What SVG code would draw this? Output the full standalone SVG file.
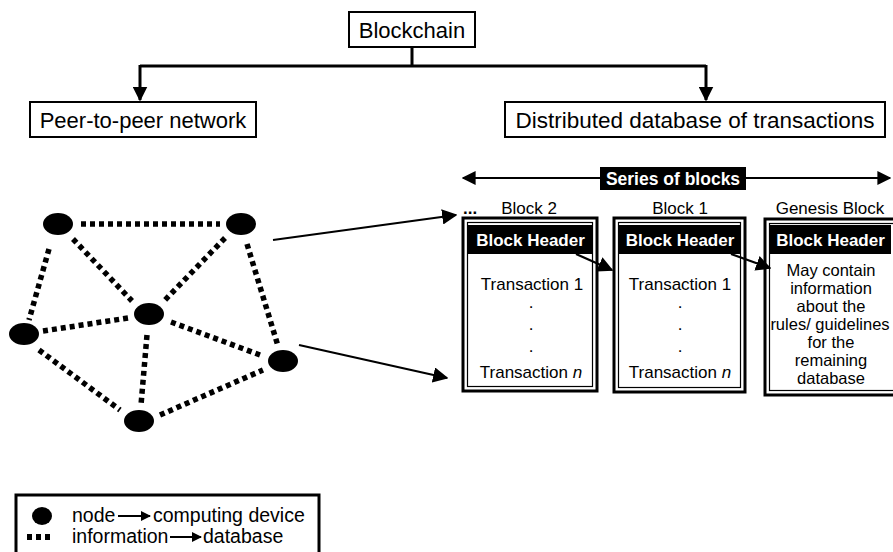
<svg xmlns="http://www.w3.org/2000/svg" width="893" height="552" viewBox="0 0 893 552">
<defs>
<style>
.t{font-family:"Liberation Sans",Arial,sans-serif;fill:#000}
.b{font-family:"Liberation Sans",Arial,sans-serif;font-weight:bold;fill:#fff}
.box{fill:#fff;stroke:#000;stroke-width:2}
.blk{fill:#fff;stroke:#000;stroke-width:3}
.inn{fill:none;stroke:#000;stroke-width:1.2}
.dot{stroke:#000;stroke-width:5.5;stroke-dasharray:5 4;fill:none}
.ln{stroke:#000;fill:none}
</style>
<marker id="ah" viewBox="0 0 10 10" refX="9" refY="5" markerWidth="5" markerHeight="5" orient="auto" markerUnits="strokeWidth"><path d="M0,0 L10,5 L0,10 z" fill="#000"/></marker>
<marker id="ah2" viewBox="0 0 10 10" refX="9" refY="5" markerWidth="7" markerHeight="7" orient="auto-start-reverse" markerUnits="strokeWidth"><path d="M0,0 L10,5 L0,10 z" fill="#000"/></marker>
</defs>
<rect width="893" height="552" fill="#fff"/>

<g id="connectors">
<path class="ln" stroke-width="3" d="M412,47 V66 M140,66 H706"/>
<path class="ln" stroke-width="3" d="M140,65 V100" marker-end="url(#ah)"/>
<path class="ln" stroke-width="3" d="M706,65 V100" marker-end="url(#ah)"/>
<path class="ln" stroke-width="2" d="M600,178 H463" marker-end="url(#ah2)"/>
<path class="ln" stroke-width="2" d="M746,178 H890" marker-end="url(#ah2)"/>
<path class="ln" stroke-width="2.2" d="M273,240 L456,215" marker-end="url(#ah2)"/>
<path class="ln" stroke-width="2.2" d="M299,345 L447,378" marker-end="url(#ah2)"/>
<g id="net-links">
<path class="dot" d="M81,224 H220"/>
<path class="dot" d="M73,239 L132,301"/>
<path class="dot" d="M225,238 L165,300"/>
<path class="dot" d="M49,249 L29,320"/>
<path class="dot" d="M247,244 L278,346"/>
<path class="dot" d="M43,331 L128,318"/>
<path class="dot" d="M171,322 L260,355"/>
<path class="dot" d="M147,335 L141,405"/>
<path class="dot" d="M39,350 L120,410"/>
<path class="dot" d="M160,415 L263,370"/>
</g>
</g>

<g id="blockchain">
<rect class="box" x="349" y="12" width="126" height="35"/>
<text class="t" x="412" y="38" font-size="22" text-anchor="middle">Blockchain</text>
</g>
<g id="p2p">
<rect class="box" x="30" y="102" width="226" height="35"/>
<text class="t" x="143" y="128" font-size="22" text-anchor="middle">Peer-to-peer network</text>
</g>
<g id="ddb">
<rect class="box" x="505" y="102" width="380" height="35"/>
<text class="t" x="695" y="128" font-size="22.5" text-anchor="middle">Distributed database of transactions</text>
</g>

<g id="series">
<rect x="600" y="167" width="146" height="23" fill="#000"/>
<text class="b" x="673" y="185" font-size="17.5" text-anchor="middle">Series of blocks</text>
</g>

<g id="nodes">
<ellipse id="n1" cx="58" cy="224" rx="15" ry="11" fill="#000"/>
<ellipse id="n2" cx="241" cy="224" rx="15" ry="11" fill="#000"/>
<ellipse id="n3" cx="149" cy="314" rx="15" ry="11" fill="#000"/>
<ellipse id="n4" cx="24" cy="334" rx="15" ry="11" fill="#000"/>
<ellipse id="n5" cx="283" cy="361" rx="15" ry="11" fill="#000"/>
<ellipse id="n6" cx="139" cy="421" rx="15" ry="11" fill="#000"/>
</g>

<g id="block2">
<text class="t" x="463" y="214" font-size="17" font-weight="bold">...</text>
<text class="t" x="529" y="214" font-size="17" text-anchor="middle">Block 2</text>
<rect class="blk" x="463" y="218" width="134" height="173"/>
<rect class="inn" x="467.5" y="222.5" width="125" height="164"/>
<rect x="468" y="225" width="125" height="29" fill="#000"/>
<text class="b" x="530.5" y="246" font-size="17" text-anchor="middle">Block Header</text>
<text class="t" x="532" y="290" font-size="17" text-anchor="middle">Transaction 1</text>
<text class="t" x="531" y="308" font-size="17" text-anchor="middle">.</text>
<text class="t" x="531" y="330" font-size="17" text-anchor="middle">.</text>
<text class="t" x="531" y="352" font-size="17" text-anchor="middle">.</text>
<text class="t" x="531" y="378" font-size="17" text-anchor="middle">Transaction <tspan font-style="italic">n</tspan></text>
</g>

<g id="block1">
<text class="t" x="680" y="214" font-size="17" text-anchor="middle">Block 1</text>
<rect class="blk" x="614" y="218" width="131" height="174"/>
<rect class="inn" x="618.5" y="222.5" width="122" height="165"/>
<rect x="619" y="225" width="122" height="29" fill="#000"/>
<text class="b" x="680" y="246" font-size="17" text-anchor="middle">Block Header</text>
<text class="t" x="680" y="290" font-size="17" text-anchor="middle">Transaction 1</text>
<text class="t" x="680" y="308" font-size="17" text-anchor="middle">.</text>
<text class="t" x="680" y="330" font-size="17" text-anchor="middle">.</text>
<text class="t" x="680" y="352" font-size="17" text-anchor="middle">.</text>
<text class="t" x="680" y="378" font-size="17" text-anchor="middle">Transaction <tspan font-style="italic">n</tspan></text>
</g>

<g id="genesis">
<text class="t" x="830" y="214" font-size="17" text-anchor="middle">Genesis Block</text>
<rect class="blk" x="765" y="219" width="132" height="176"/>
<rect class="inn" x="769.5" y="223.5" width="130" height="167"/>
<rect x="770" y="225" width="121" height="29" fill="#000"/>
<text class="b" x="830.5" y="246" font-size="17" text-anchor="middle">Block Header</text>
<text class="t" x="831" y="276" font-size="16.5" text-anchor="middle">May contain</text>
<text class="t" x="831" y="294" font-size="16.5" text-anchor="middle">information</text>
<text class="t" x="831" y="312" font-size="16.5" text-anchor="middle">about the</text>
<text class="t" x="830" y="330" font-size="16.5" text-anchor="middle">rules/ guidelines</text>
<text class="t" x="831" y="348" font-size="16.5" text-anchor="middle">for the</text>
<text class="t" x="831" y="366" font-size="16.5" text-anchor="middle">remaining</text>
<text class="t" x="831" y="384" font-size="16.5" text-anchor="middle">database</text>
</g>

<g id="block-links">
<path class="ln" stroke-width="2.2" d="M576,254 L612,270" marker-end="url(#ah2)"/>
<path class="ln" stroke-width="2.2" d="M731,254 L770,268" marker-end="url(#ah2)"/>
</g>

<g id="legend">
<rect x="16" y="495" width="303" height="70" fill="#fff" stroke="#000" stroke-width="3"/>
<ellipse cx="42" cy="516" rx="10" ry="9" fill="#000"/>
<path d="M27,537 H54" stroke="#000" stroke-width="6" stroke-dasharray="5 4"/>
<text class="t" x="72" y="522" font-size="19.5">node</text>
<path class="ln" stroke-width="2" d="M118,516 H150" marker-end="url(#ah)"/>
<text class="t" x="153" y="522" font-size="19.5">computing device</text>
<text class="t" x="72" y="543" font-size="19.5">information</text>
<path class="ln" stroke-width="2" d="M170,537 H201" marker-end="url(#ah)"/>
<text class="t" x="203" y="543" font-size="19.5">database</text>
</g>
</svg>
